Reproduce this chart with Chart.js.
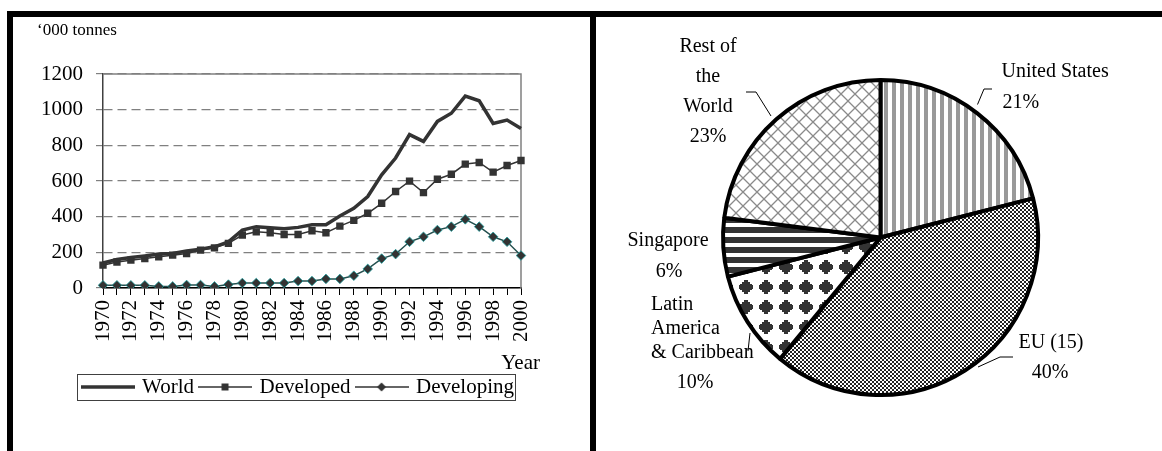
<!DOCTYPE html>
<html>
<head>
<meta charset="utf-8">
<script src="https://cdn.jsdelivr.net/npm/chart.js@4/dist/chart.umd.min.js"></script>
<style>
  html, body { margin: 0; padding: 0; background: #fff; }
  body { width: 1162px; height: 451px; position: relative; overflow: hidden; }
  #lineWrap { position: absolute; left: 0; top: 0; width: 590px; height: 451px; }
  #pieWrap { position: absolute; left: 596px; top: 17px; width: 566px; height: 434px; }
  .rule { position: absolute; background: #000; }
</style>
</head>
<body>
<div id="lineWrap"><canvas id="lineChart" width="590" height="451"></canvas></div>
<div id="pieWrap"><canvas id="pieChart" width="566" height="434"></canvas></div>
<div class="rule" style="left:7px;top:11px;width:1155px;height:6px"></div>
<div class="rule" style="left:7px;top:11px;width:6px;height:440px"></div>
<div class="rule" style="left:590px;top:11px;width:6px;height:440px"></div>
<script>
// ---- Production, '000 tonnes ----
const years = ['1970','1971','1972','1973','1974','1975','1976','1977','1978','1979',
               '1980','1981','1982','1983','1984','1985','1986','1987','1988','1989',
               '1990','1991','1992','1993','1994','1995','1996','1997','1998','1999','2000'];
const world      = [140,160,171,180,190,193,207,218,231,259,325,344,338,332,340,355,355,404,447,513,635,729,860,822,934,980,1076,1050,923,942,895];
const developed  = [128,146,156,165,175,184,193,212,225,250,297,315,310,300,300,321,310,347,379,419,475,541,599,535,610,638,695,704,650,687,715];
const developing = [15,15,15,15,9,9,17,17,9,19,28,28,28,28,39,39,51,51,69,107,165,190,259,287,325,344,385,344,287,259,182];
const seriesNames = ['World', 'Developed', 'Developing'];
const yTicks = [0, 200, 400, 600, 800, 1000, 1200];

// ---- Share by region, % ----
const regions = ['United States', 'EU (15)', 'Latin\nAmerica\n& Caribbean', 'Singapore', 'Rest of\nthe\nWorld'];
const shares  = [21, 40, 10, 6, 23];

const serif = "'Liberation Serif', 'Times New Roman', serif";
const ink = '#333';
const axisFont = 21;

// Small legend swatches: line with the series marker in the middle
function legendSwatch(kind) {
  const c = document.createElement('canvas');
  c.width = 54; c.height = 12;
  const g = c.getContext('2d');
  g.strokeStyle = ink; g.fillStyle = ink;
  g.lineWidth = kind === 'thick' ? 3.5 : 1.5;
  g.beginPath(); g.moveTo(0, 6); g.lineTo(54, 6); g.stroke();
  if (kind === 'square') g.fillRect(23.5, 2.5, 7, 7);
  if (kind === 'diamond') {
    g.beginPath(); g.moveTo(27, 1.5); g.lineTo(31.5, 6); g.lineTo(27, 10.5); g.lineTo(22.5, 6);
    g.closePath(); g.fill();
  }
  return c;
}
const swatches = [legendSwatch('thick'), legendSwatch('square'), legendSwatch('diamond')];

const lineDecor = {
  id: 'lineDecor',
  beforeDatasetsDraw(chart) {
    const { ctx, chartArea: a } = chart;
    ctx.save();
    ctx.strokeStyle = '#808080';
    ctx.lineWidth = 1.5;
    ctx.beginPath();
    ctx.moveTo(a.left, a.top);
    ctx.lineTo(a.right, a.top);
    ctx.lineTo(a.right, a.bottom);
    ctx.stroke();
    ctx.restore();
  },
  afterDraw(chart) {
    const { ctx, chartArea: a, legend } = chart;
    ctx.save();
    ctx.fillStyle = '#000';
    ctx.textAlign = 'left';
    ctx.textBaseline = 'alphabetic';
    ctx.font = '17px ' + serif;
    ctx.fillText('\u2018000 tonnes', 37, 35);
    ctx.font = axisFont + 'px ' + serif;
    ctx.textAlign = 'right';
    ctx.fillText('Year', a.right + 19, a.bottom + 81);
    const hb = legend.legendHitBoxes;
    const last = hb[hb.length - 1];
    const left = Math.round(hb[0].left - 7);
    const right = Math.round(last.left + last.width + 1);
    ctx.strokeStyle = '#404040';
    ctx.lineWidth = 1;
    ctx.strokeRect(left + 0.5, Math.round(hb[0].top - 2.5) + 0.5, right - left, 26);
    ctx.restore();
  }
};

new Chart(document.getElementById('lineChart'), {
  type: 'line',
  data: {
    labels: years,
    datasets: [
      { label: seriesNames[0], data: world, borderColor: ink, borderWidth: 3.5, pointRadius: 0, tension: 0 },
      { label: seriesNames[1], data: developed, borderColor: ink, borderWidth: 1.5, tension: 0,
        pointStyle: 'rect', pointRadius: 5.2, pointBackgroundColor: ink, pointBorderColor: ink, pointBorderWidth: 0 },
      { label: seriesNames[2], data: developing, borderColor: '#24504f', borderWidth: 1.5, tension: 0,
        pointStyle: 'rectRot', pointRadius: 4.8, pointBackgroundColor: ink, pointBorderColor: '#1fa0a0', pointBorderWidth: 0.8 }
    ]
  },
  options: {
    responsive: false,
    animation: false,
    layout: { padding: { left: 0, top: 74, right: 69, bottom: 43.5 } },
    scales: {
      x: {
        offset: false,
        afterFit(scale) { scale.height = 81.5; },
        grid: { drawOnChartArea: false, drawTicks: true, tickLength: 7, tickColor: '#000', tickWidth: 1 },
        border: { display: true, color: '#000', width: 1.5 },
        ticks: {
          autoSkip: false, minRotation: 90, maxRotation: 90, padding: 5, color: '#000',
          font: { family: serif, size: axisFont },
          callback(value, index) { return index % 2 === 0 ? years[index] : ''; }
        }
      },
      y: {
        min: yTicks[0], max: yTicks[yTicks.length - 1],
        afterFit(scale) { scale.width = 103; },
        afterBuildTicks(scale) { scale.ticks = yTicks.map(v => ({ value: v })); },
        grid: { color: '#808080', lineWidth: 1.2, tickLength: 7, tickColor: '#808080' },
        border: { display: true, color: '#404040', width: 1.5, dash: [9, 5] },
        ticks: { padding: 13, color: '#000', font: { family: serif, size: axisFont },
                 callback(value) { return String(value); } }
      }
    },
    plugins: {
      tooltip: { enabled: false },
      legend: {
        position: 'bottom',
        align: 'end',
        labels: {
          usePointStyle: true,
          pointStyleWidth: 48,
          padding: 7,
          color: '#000',
          font: { family: serif, size: axisFont },
          generateLabels(chart) {
            return chart.data.datasets.map((ds, i) => ({
              text: ds.label, pointStyle: swatches[i], datasetIndex: i,
              fillStyle: ink, strokeStyle: ink, lineWidth: 0, hidden: false, fontColor: '#000'
            }));
          }
        }
      }
    }
  },
  plugins: [lineDecor]
});

// ---- Pie ----
const pieCanvas = document.getElementById('pieChart');
const pctx = pieCanvas.getContext('2d');
function tilePattern(w, h, paint) {
  const c = document.createElement('canvas');
  c.width = w; c.height = h;
  const g = c.getContext('2d');
  g.fillStyle = '#fff';
  g.fillRect(0, 0, w, h);
  paint(g);
  return pctx.createPattern(c, 'repeat');
}
const fills = [
  // vertical grey stripes
  tilePattern(8, 1, g => { g.fillStyle = '#999'; g.fillRect(0, 0, 4, 1); }),
  // fine checkerboard
  tilePattern(4, 4, g => { g.fillStyle = '#222'; g.fillRect(0, 0, 2, 2); g.fillRect(2, 2, 2, 2); }),
  // stepped diamond dots
  tilePattern(20, 20, g => {
    g.fillStyle = ink;
    g.fillRect(8, 3, 4, 14);
    g.fillRect(6, 5, 8, 10);
    g.fillRect(4, 7, 12, 6);
    g.fillRect(3, 8, 14, 4);
  }),
  // horizontal dark stripes
  tilePattern(1, 10, g => { g.fillStyle = ink; g.fillRect(0, 0, 1, 6); }),
  // grey diagonal lattice
  tilePattern(14, 14, g => {
    g.strokeStyle = '#8a8a8a'; g.lineWidth = 1.3;
    g.beginPath();
    g.moveTo(0, 0); g.lineTo(14, 14);
    g.moveTo(14, 0); g.lineTo(0, 14);
    g.stroke();
  })
];

// label placement around the pie, offsets from its centre
const pieLabelLayout = [
  { x: 121, y: -165.5, gap: 30, align: 'left',   px: 122,    py: -134.5, palign: 'left',
    leader: [[111.5, -148.5], [103.5, -148.5], [97, -133]] },
  { x: 170.5, y: 105.5,  gap: 30, align: 'center', px: 169.5,  py: 135.5,  palign: 'center',
    leader: [[132.5, 119.5], [119.5, 119.5], [97.5, 129.5]] },
  { x: -229.5, y: 67.5,  gap: 24, align: 'left',   px: -185.5, py: 145.5,  palign: 'center',
    leader: [[-130.5, 95.5], [-132.5, 113.5]] },
  { x: -212.5, y: 3.5,   gap: 30, align: 'center', px: -211.5, py: 34.5,   palign: 'center',
    leader: [] },
  { x: -172.5, y: -190.5, gap: 30, align: 'center', px: -172.5, py: -100.5, palign: 'center',
    leader: [[-134.5, -145.5], [-124.5, -145.5], [-109.5, -121.5]] }
];

const pieLabels = {
  id: 'pieLabels',
  afterDraw(chart) {
    const { ctx } = chart;
    const arc = chart.getDatasetMeta(0).data[0];
    const cx = arc.x, cy = arc.y;
    ctx.save();
    ctx.fillStyle = '#000';
    ctx.strokeStyle = '#000';
    ctx.lineWidth = 1;
    ctx.font = '20px ' + serif;
    ctx.textBaseline = 'middle';
    chart.data.labels.forEach((name, i) => {
      const L = pieLabelLayout[i];
      ctx.textAlign = L.align;
      name.split('\n').forEach((line, k) => ctx.fillText(line, cx + L.x, cy + L.y + k * L.gap));
      ctx.textAlign = L.palign;
      ctx.fillText(chart.data.datasets[0].data[i] + '%', cx + L.px, cy + L.py);
      if (L.leader.length) {
        ctx.beginPath();
        L.leader.forEach(([lx, ly], k) => k ? ctx.lineTo(cx + lx, cy + ly) : ctx.moveTo(cx + lx, cy + ly));
        ctx.stroke();
      }
    });
    ctx.restore();
  }
};

new Chart(pieCanvas, {
  type: 'pie',
  data: {
    labels: regions,
    datasets: [{ data: shares, backgroundColor: fills, borderColor: '#000', borderWidth: 4, radius: 157.5 }]
  },
  options: {
    responsive: false,
    animation: false,
    layout: { padding: { left: 3, top: 7, right: 0, bottom: 0 } },
    plugins: { legend: { display: false }, tooltip: { enabled: false } }
  },
  plugins: [pieLabels]
});
</script>
</body>
</html>
